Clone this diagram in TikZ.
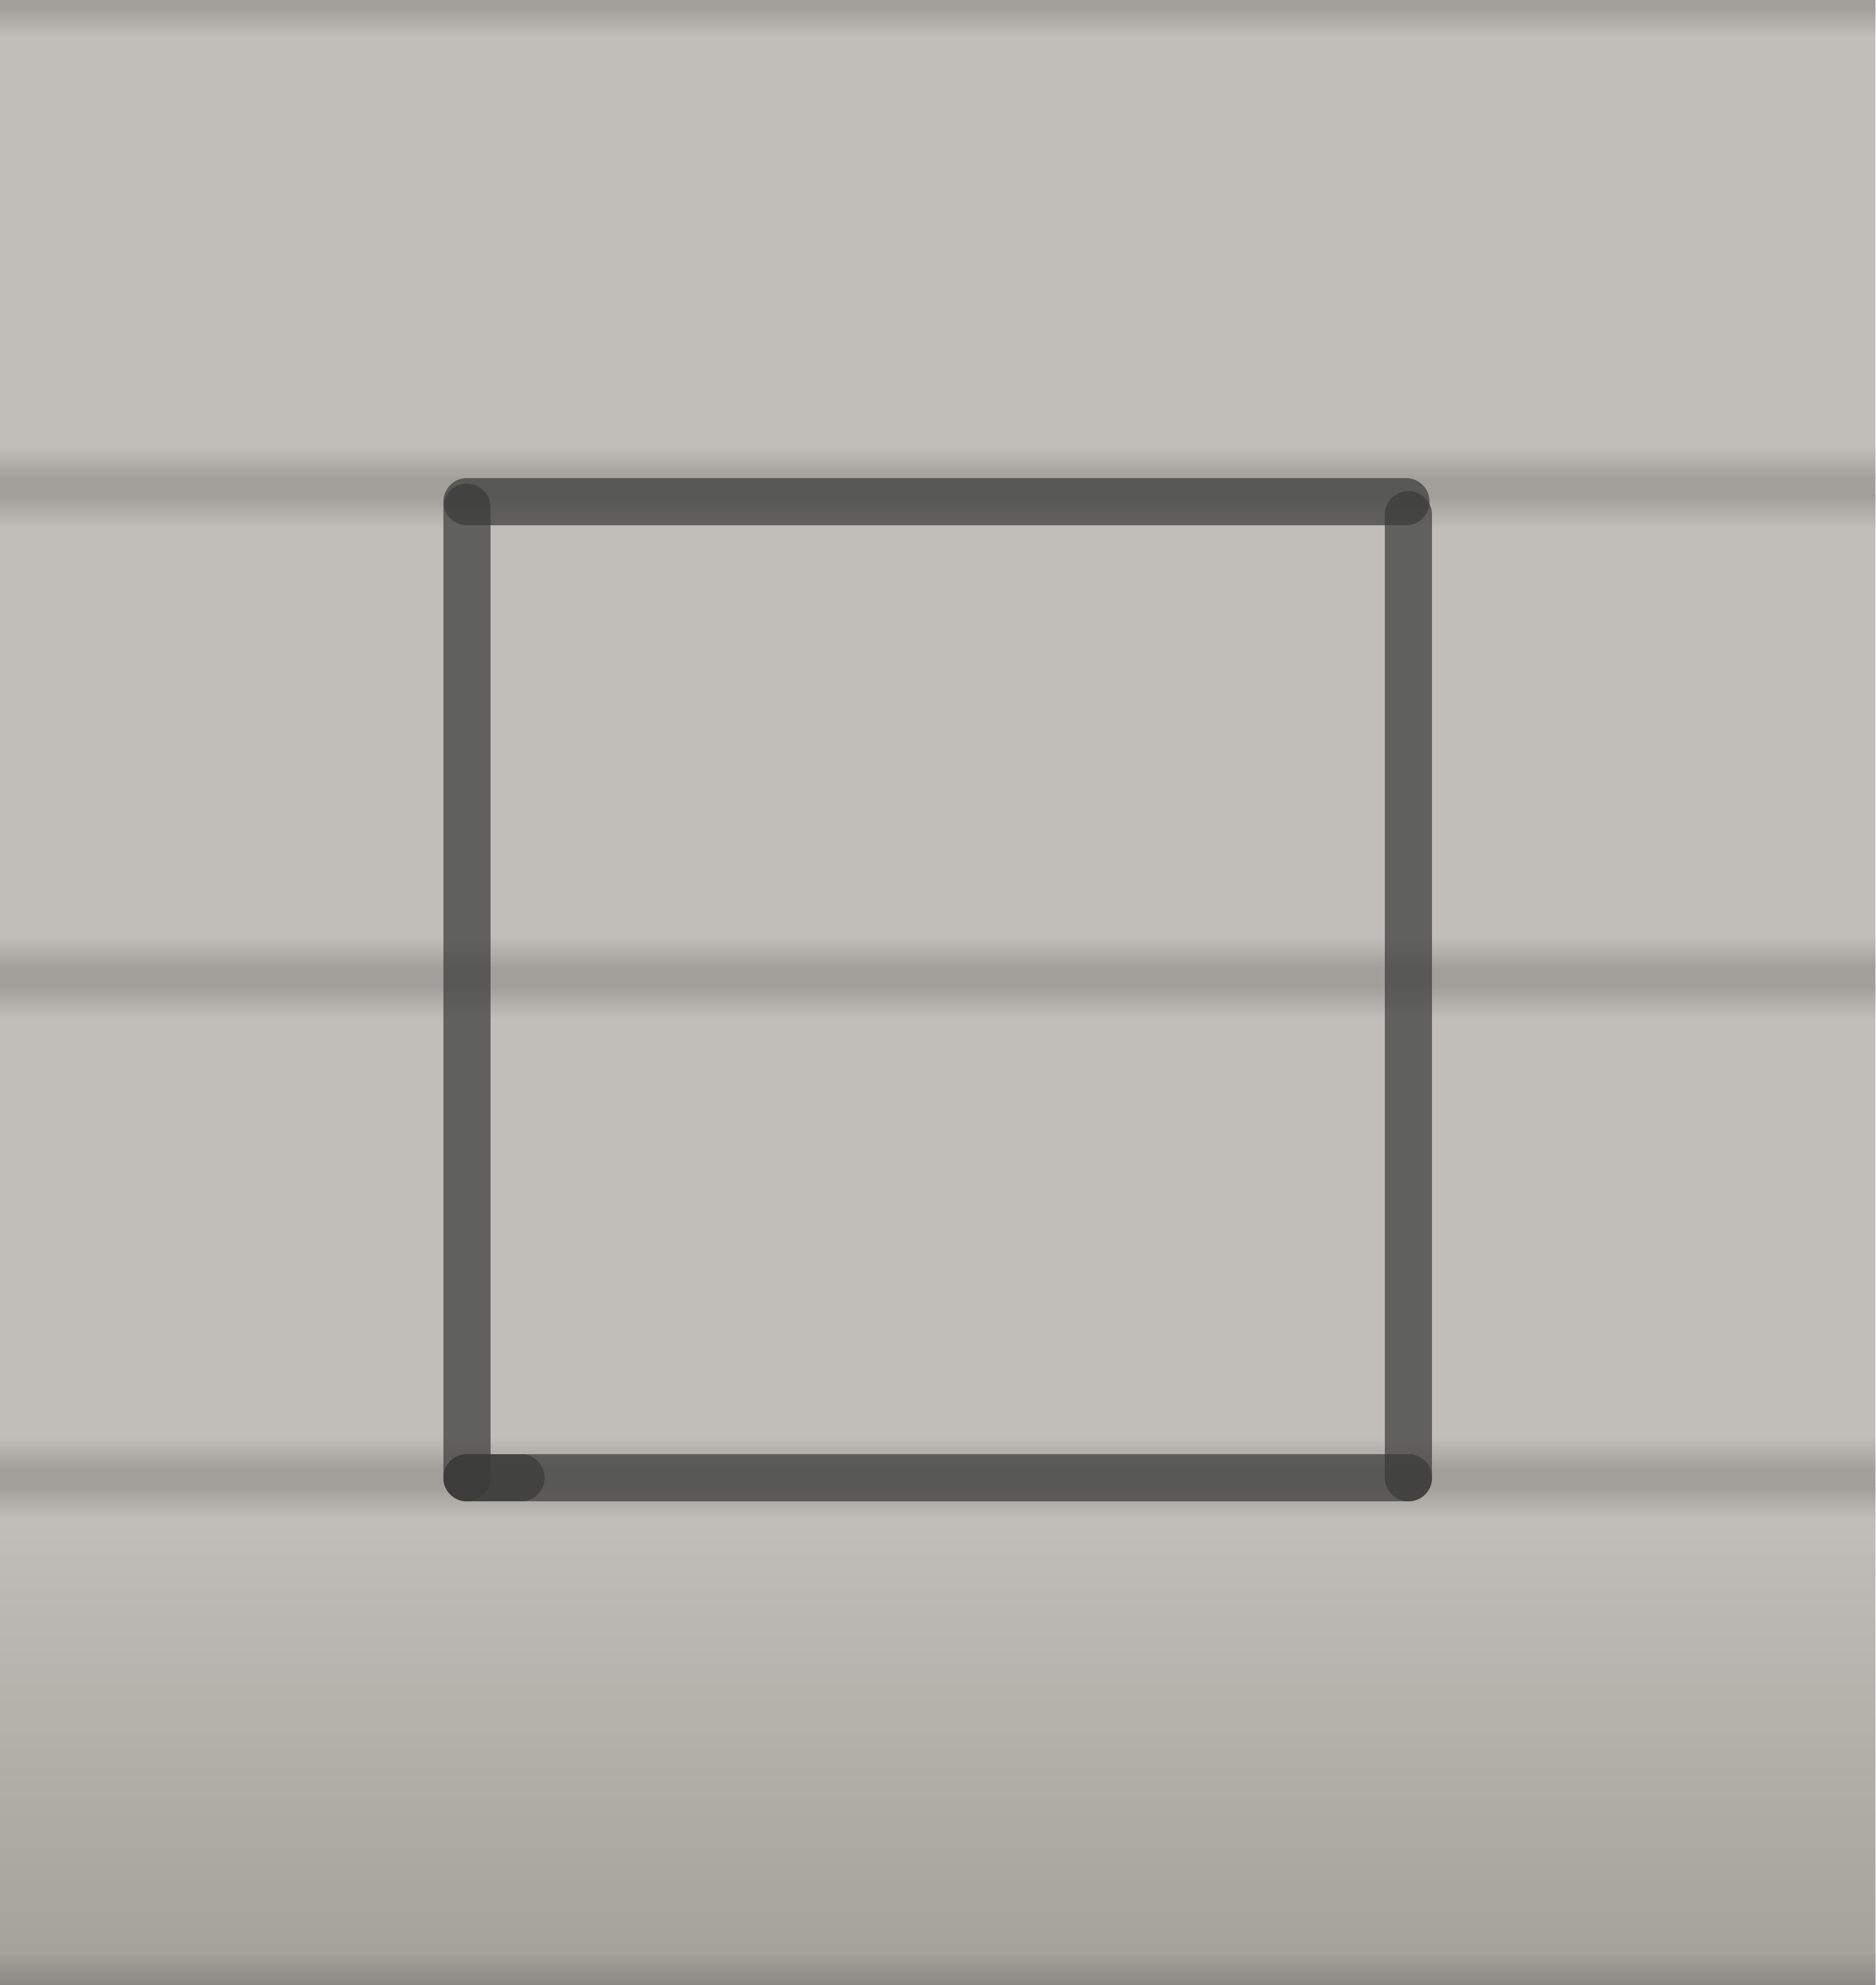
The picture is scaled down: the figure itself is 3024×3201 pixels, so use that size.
\documentclass[tikz,border=0pt]{standalone}
\definecolor{wall}{RGB}{191,190,184}
\definecolor{walldark}{RGB}{160,159,154}
\definecolor{floorgray}{RGB}{164,161,154}
\definecolor{marker}{RGB}{58,58,56}
\tikzset{
  pen/.style={draw=marker, draw opacity=0.7, line width=0.76cm, line cap=round},
}
\begin{document}
\begin{tikzpicture}[x=0.01cm,y=-0.01cm]
      \useasboundingbox (0,0) rectangle (3024,3201);
      % wall
      \fill[wall] (0,0) rectangle (3024,3201);
      \shade[top color=wall, bottom color=floorgray] (0,2440) rectangle (3024,3201);
      \fill[walldark] (0,0) rectangle (3024,12);
      \shade[top color=walldark, bottom color=wall] (0,12) rectangle (3024,60);
      \foreach \y in {786, 1576, 2384} {
        \shade[top color=wall, bottom color=walldark] (0,\y-66) rectangle (3024,\y-14);
        \fill[walldark] (0,\y-14.5) rectangle (3024,\y+14.5);
        \shade[top color=walldark, bottom color=wall] (0,\y+14) rectangle (3024,\y+66);
      }
      \shade[top color=floorgray, bottom color=walldark!85!black] (0,3150) rectangle (3024,3201);
      % square
      \draw
        (753,809) coordinate (tl)
        (2267,809) coordinate (tr)
        (2271,2383) coordinate (br)
        (753,2383) coordinate (bl)
        (840,2383) coordinate (blx)
        (753,818) coordinate (tlv)
        (2271,830) coordinate (trv);
      \begin{scope}[pen]
        \draw (tl) to (tr);
        \draw (tlv) to (bl);
        \draw (trv) to (br);
        \draw (bl) to (br);
        \draw (bl) to (blx);
      \end{scope}
    \end{tikzpicture}
\end{document}
